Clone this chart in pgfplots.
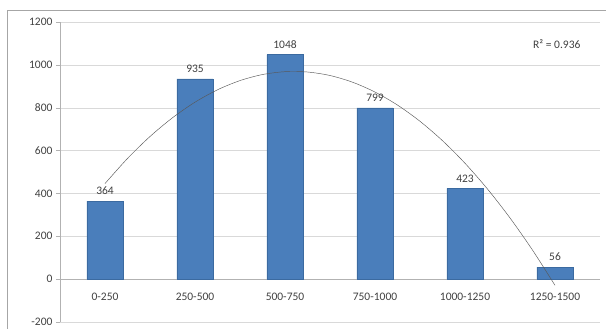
\documentclass[border=0pt]{standalone}
\usepackage{fontspec}
\setmainfont{Carlito}
\usepackage{pgfplots}
\pgfplotsset{compat=1.18}
\definecolor{barblue}{HTML}{4A7EBB}
\definecolor{baredge}{HTML}{3B6AA0}
\definecolor{txt}{HTML}{404040}
\begin{document}
\begin{tikzpicture}[x=1pt,y=1pt]
\path[use as bounding box] (0,0) rectangle (606,329);
\draw[gray!70, line width=0.8pt] (7,0) -- (7,319) -- (606,319);
\begin{axis}[at={(60pt,7pt)}, anchor=south west, scale only axis,
  width=540pt, height=300pt,
  xmin=-0.5, xmax=5.5, ymin=-200, ymax=1200,
  ytick={-200,0,200,400,600,800,1000,1200},
  xtick={0,...,5},
  xticklabels={0-250,250-500,500-750,750-1000,1000-1250,1250-1500},
  minor xtick={-0.5,0.5,1.5,2.5,3.5,4.5,5.5},
  axis x line=middle, axis y line=left,
  axis line style={-, gray!60},
  x tick style={draw=none},
  minor x tick style={gray!60},
  y tick style={gray!60},
  tick align=outside,
  major tick length=4pt, minor tick length=4pt,
  ymajorgrids, major grid style={gray!30},
  tick label style={font=\fontsize{11.5}{13}\selectfont, text=txt},
  /pgf/number format/assume math mode=true,
  /pgf/number format/1000 sep={},
  xticklabel style={yshift=-6pt},
  clip=false,
]
\addplot[ybar, bar width=36pt, fill=barblue, draw=baredge,
  nodes near coords,
  every node near coord/.style={font=\fontsize{11.5}{13}\selectfont, text=txt, anchor=south, inner sep=0pt, yshift=6pt},
  /pgf/number format/assume math mode=true,
  /pgf/number format/1000 sep={}]
  coordinates {(0,364) (1,935) (2,1048) (3,799) (4,423) (5,56)};
\addplot[smooth, mark=none, color=black!65, line width=0.45pt] coordinates {
(0,446.05) (0.25,563.2) (0.5,665.6) (0.75,753.1) (1,825.8) (1.25,883.6)
(1.5,926.6) (1.75,954.8) (2,968.1) (2.25,966.6) (2.5,950.3) (2.75,919.1)
(3,873.1) (3.25,812.3) (3.5,736.6) (3.75,646.1) (4,540.8) (4.25,420.6)
(4.5,285.6) (4.75,135.7) (5,-28.95)};
\node[font=\fontsize{11.5}{13}\selectfont, text=txt] at (axis cs:5.02,1097) {R² = 0.936};
\end{axis}
\end{tikzpicture}
\end{document}
